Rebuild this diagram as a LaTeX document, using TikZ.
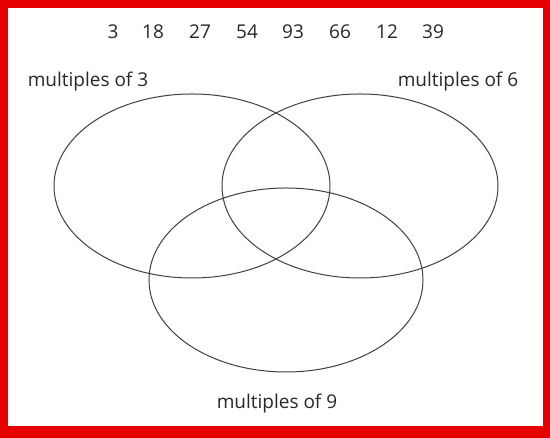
\documentclass[tikz,border=0pt]{standalone}
\usepackage{fontspec}
\setmainfont{Open Sans}
\definecolor{bordo}{RGB}{230,0,0}
\definecolor{testo}{RGB}{40,40,40}
\tikzset{
  insieme/.style={draw=black!75, line width=1pt},
  etichetta/.style={text=testo, font=\fontsize{19}{22}\selectfont, inner sep=0pt},
}
\begin{document}
\begin{tikzpicture}[x=1pt, y=1pt]

        % 1. Cornice rossa
        \fill[bordo] (0,0) rectangle (550,438);
        \fill[white] (8,12) rectangle (543,430);
        \useasboundingbox (0,0) rectangle (550,438);

        % 2. I numeri in alto
        \foreach \n/\x [count=\i] in {3/113,18/153,27/200,54/247,93/293,66/340,12/387,39/433}
            \node[etichetta] (n\i) at (\x, 406) {\n};

        % 3. I tre insiemi
        \draw[insieme] (192,252) ellipse (138 and 92);
        \draw[insieme] (360,252) ellipse (138 and 92);
        \draw[insieme] (286,158) ellipse (137 and 92);

        % 4. Nomi degli insiemi
        \node[etichetta] (tre)  at (88,356)  {multiples of 3};
        \node[etichetta] (sei)  at (458,356) {multiples of 6};
        \node[etichetta] (nove) at (277,34)  {multiples of 9};

\end{tikzpicture}
\end{document}
